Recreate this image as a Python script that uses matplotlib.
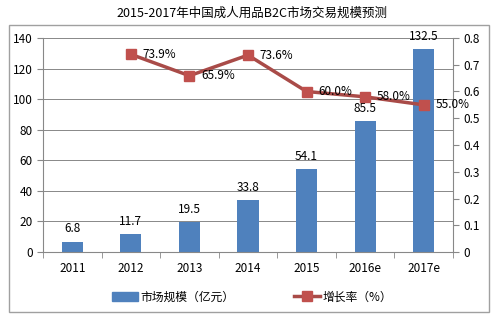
import numpy as np
import matplotlib.pyplot as plt
from matplotlib.patches import Rectangle
from matplotlib.lines import Line2D

plt.rcParams['font.family'] = ['Noto Sans CJK SC', 'DejaVu Sans']

years = ['2011', '2012', '2013', '2014', '2015', '2016e', '2017e']
market = [6.8, 11.7, 19.5, 33.8, 54.1, 85.5, 132.5]
rate_years = ['2012', '2013', '2014', '2015', '2016e', '2017e']
rate = [0.739, 0.659, 0.736, 0.600, 0.580, 0.550]

bar_color = '#4F81BD'
line_color = '#C0504D'

fig = plt.figure(figsize=(5.04, 3.24), dpi=100)
fig.patches.append(Rectangle((9 / 504, 1 - 312 / 324), 480 / 504, 287 / 324,
                             transform=fig.transFigure, fill=False,
                             edgecolor='#A0A0A0', lw=1))
fig.text(0.5, 1 - 13 / 324, '2015-2017年中国成人用品B2C市场交易规模预测',
         ha='center', va='center', fontsize=9)

ax = fig.add_axes([43 / 504, 1 - 252 / 324, 410 / 504, 214 / 324])
x = np.arange(len(years))
ax.bar(x, market, width=0.36, color=bar_color, zorder=2)
for xi, v in zip(x, market):
    ax.text(xi, v + 4, f'{v}', ha='center', va='bottom', fontsize=8.5)
ax.set_xlim(-0.5, len(years) - 0.5)
ax.set_ylim(0, 140)
ax.set_yticks(range(0, 141, 20))
ax.set_xticks(x)
ax.set_xticklabels(years)
ax.set_xticks(np.arange(-0.5, len(years), 1), minor=True)
ax.tick_params(axis='x', which='major', length=0, labelsize=8.5, pad=7)
ax.tick_params(axis='x', which='minor', length=4, color='#888888')
ax.tick_params(axis='y', labelsize=8.5, length=4, color='#888888')
ax.grid(axis='y', color='#888888', lw=0.7, zorder=0)
for s in ['top', 'right']:
    ax.spines[s].set_visible(False)
ax.spines['left'].set_color('#888888')
ax.spines['bottom'].set_color('#888888')

ax2 = ax.twinx()
rx = [years.index(y) for y in rate_years]
ax2.plot(rx, rate, color='#A94B48', lw=2.5, marker='s', markersize=7,
         markerfacecolor=line_color, markeredgecolor=line_color, zorder=3)
for xi, v in zip(rx, rate):
    ax2.text(xi + 0.2, v, f'{v * 100:.1f}%', ha='left', va='center', fontsize=8.5)
ax2.set_ylim(0, 0.8)
ax2.set_yticks(np.arange(0, 0.81, 0.1))
ax2.set_yticklabels(['0'] + [f'{t:.1f}' for t in np.arange(0.1, 0.81, 0.1)])
ax2.tick_params(axis='y', labelsize=8.5, length=4, color='#888888')
for s in ['top', 'left', 'bottom']:
    ax2.spines[s].set_visible(False)
ax2.spines['right'].set_color('#888888')

handles = [Rectangle((0, 0), 1, 1, color=bar_color),
           Line2D([], [], color='#A94B48', lw=2.5, marker='s', markersize=7,
                  markerfacecolor=line_color, markeredgecolor=line_color)]
fig.legend(handles, ['市场规模（亿元）', '增长率（%）'], loc='center',
           bbox_to_anchor=(0.5, 1 - 297 / 324), ncol=2, frameon=False,
           fontsize=8.5, columnspacing=5, handlelength=2.2, handletextpad=0.2)

fig.savefig('out.png', dpi=100)
